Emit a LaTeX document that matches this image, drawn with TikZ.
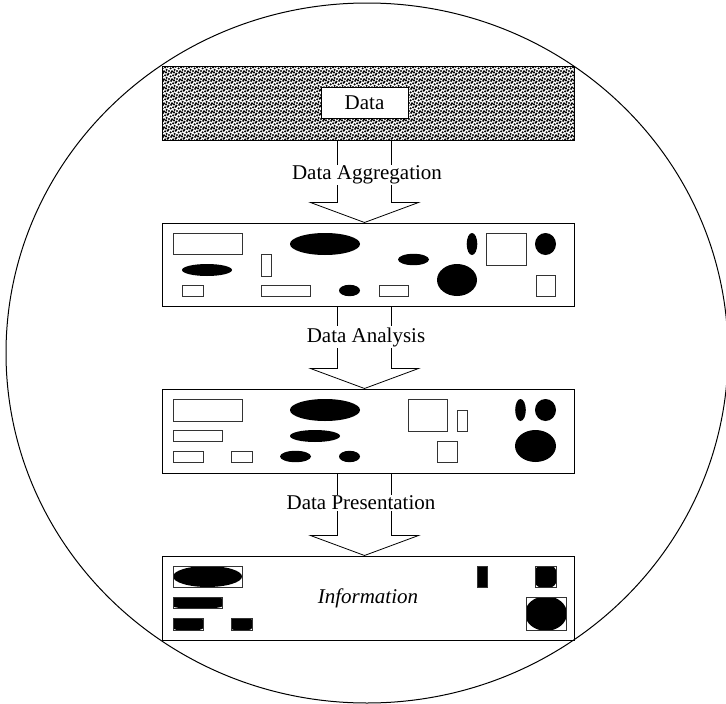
\documentclass[tikz,border=0pt]{standalone}
\usepackage{fontspec}
\setmainfont{Liberation Serif}
\usepackage{tikz}
\usetikzlibrary{calc}
\usetikzlibrary{patterns}
\pgfdeclarepatternformonly{speckle}{\pgfqpoint{-2pt}{-2pt}}{\pgfqpoint{10pt}{10pt}}{\pgfqpoint{8pt}{8pt}}{%
	\pgfpathcircle{\pgfqpoint{1pt}{1pt}}{1.15pt}
	\pgfpathcircle{\pgfqpoint{4pt}{0.6pt}}{1.15pt}
	\pgfpathcircle{\pgfqpoint{6.6pt}{2.1pt}}{1.15pt}
	\pgfpathcircle{\pgfqpoint{2.6pt}{3.6pt}}{1.15pt}
	\pgfpathcircle{\pgfqpoint{5.2pt}{4.6pt}}{1.15pt}
	\pgfpathcircle{\pgfqpoint{7.7pt}{5.3pt}}{1.15pt}
	\pgfpathcircle{\pgfqpoint{0.5pt}{6.2pt}}{1.15pt}
	\pgfpathcircle{\pgfqpoint{3.2pt}{7.1pt}}{1.15pt}
	\pgfpathcircle{\pgfqpoint{6pt}{7.6pt}}{1.15pt}
	\pgfusepath{fill}}
\tikzset{
	panel/.style={draw=black,line width=1pt,inner sep=0pt,minimum width=412pt,minimum height=84pt},
	blob/.style={fill=black},
	slot/.style={draw=black!80,line width=1pt},
	flow/.style={draw=black,line width=0.8pt,line join=miter},
	steplabel/.style={fill=white,inner sep=1pt,font=\fontsize{21}{25}\selectfont},
}
% block arrow from the bottom of one panel to the top of the next
\newcommand{\flowarrow}[2]{%
	\draw[flow] ($(#1.south)+(-31,0)$) -- ($(#2.north)+(-31,-20)$) -- ($(#2.north)+(-58,-20)$)
	-- ($(#2.north)+(-4,0)$) -- ($(#2.north)+(50,-20)$) -- ($(#2.north)+(23,-20)$) -- ($(#1.south)+(23,0)$);}
% rectangle with a black ellipse clipped inside it
\newcommand{\framedblob}[5]{%
	\pgfmathsetmacro{\bx}{(#1+#3)/2}\pgfmathsetmacro{\by}{(#2+#4)/2}
	\pgfmathsetmacro{\brx}{#5*(#3-#1)/2}\pgfmathsetmacro{\bry}{#5*(#4-#2)/2}
	\begin{scope}
		\clip (#1,#2) rectangle (#3,#4);
		\fill (\bx,\by) ellipse [x radius=\brx pt, y radius=\bry pt];
	\end{scope}
	\draw[slot] (#1,#2) rectangle (#3,#4);}

\begin{document}
\begin{tikzpicture}[x=1pt,y=-1pt]
		\clip (0,0) rectangle (726,704);
		\draw[line width=1pt] (367,353) ellipse [x radius=361pt, y radius=350pt];
		
		% panels
		\node[panel,minimum height=74pt,pattern=speckle] (raw) at (368.5,103) {};
		\node[draw=black,line width=1pt,fill=white,minimum width=87pt,minimum height=31pt,inner sep=0pt,font=\fontsize{21}{25}\selectfont] (data) at (364.5,102.5) {Data};
		\node[panel,minimum height=83pt] (agg) at (368.5,264.5) {};
		\node[panel] (ana) at (368.5,431) {};
		\node[panel] (info) at (368.5,598) {};
		
		% arrows
		\flowarrow{raw}{agg}
		\flowarrow{agg}{ana}
		\flowarrow{ana}{info}
		\node[steplabel] (laggr) at (367,175) {Data Aggregation};
		\node[steplabel] (lanal) at (366,337) {Data Analysis};
		\node[steplabel] (lpres) at (361,503) {Data Presentation};
		
		% aggregated data
		\draw[slot] (173,233) rectangle (242,254);
		\draw[slot] (261,254) rectangle (271,276);
		\draw[slot] (486,233) rectangle (526,265);
		\draw[slot] (536,275) rectangle (555,296);
		\draw[slot] (182,285) rectangle (203,296);
		\draw[slot] (261,285) rectangle (310,296);
		\draw[slot] (379,285) rectangle (408,296);
		\fill[blob] (325,244) ellipse [x radius=35pt, y radius=11pt];
		\fill[blob] (207,270) ellipse [x radius=25pt, y radius=6pt];
		\fill[blob] (413.5,259.5) ellipse [x radius=15.5pt, y radius=5.7pt];
		\fill[blob] (472,244) ellipse [x radius=5.3pt, y radius=11pt];
		\fill[blob] (545.5,244) ellipse [x radius=10.5pt, y radius=11pt];
		\fill[blob] (457,280) ellipse [x radius=20pt, y radius=16pt];
		\fill[blob] (349.5,290.5) ellipse [x radius=10.5pt, y radius=5.7pt];
		
		% analysed data
		\draw[slot] (173,399) rectangle (242,421);
		\draw[slot] (173,430) rectangle (222,441);
		\draw[slot] (173,451) rectangle (203,462);
		\draw[slot] (231,451) rectangle (252,462);
		\draw[slot] (408,399) rectangle (447,431);
		\draw[slot] (457,410) rectangle (467,431);
		\draw[slot] (437,441) rectangle (457,462);
		\fill[blob] (325,410) ellipse [x radius=35pt, y radius=11pt];
		\fill[blob] (315,436) ellipse [x radius=25pt, y radius=6pt];
		\fill[blob] (295.5,456.5) ellipse [x radius=15.5pt, y radius=5.7pt];
		\fill[blob] (349.5,456.5) ellipse [x radius=10.5pt, y radius=5.7pt];
		\fill[blob] (520.5,410) ellipse [x radius=5.3pt, y radius=11pt];
		\fill[blob] (545.5,410) ellipse [x radius=10.5pt, y radius=11pt];
		\fill[blob] (535.5,446) ellipse [x radius=20.5pt, y radius=16pt];
		
		% information
		\framedblob{173}{566}{242}{587}{1.0}
		\framedblob{173}{597}{222}{608}{1.25}
		\framedblob{173}{618}{203}{630}{1.25}
		\framedblob{231}{618}{252}{630}{1.25}
		\framedblob{477}{566}{487}{587}{1.4}
		\framedblob{535}{566}{556}{587}{1.2}
		\framedblob{526}{597}{566}{630}{1.05}
		\node[font=\fontsize{21}{25}\selectfont\itshape] (infotext) at (368,598) {Information};
	\end{tikzpicture}
\end{document}
